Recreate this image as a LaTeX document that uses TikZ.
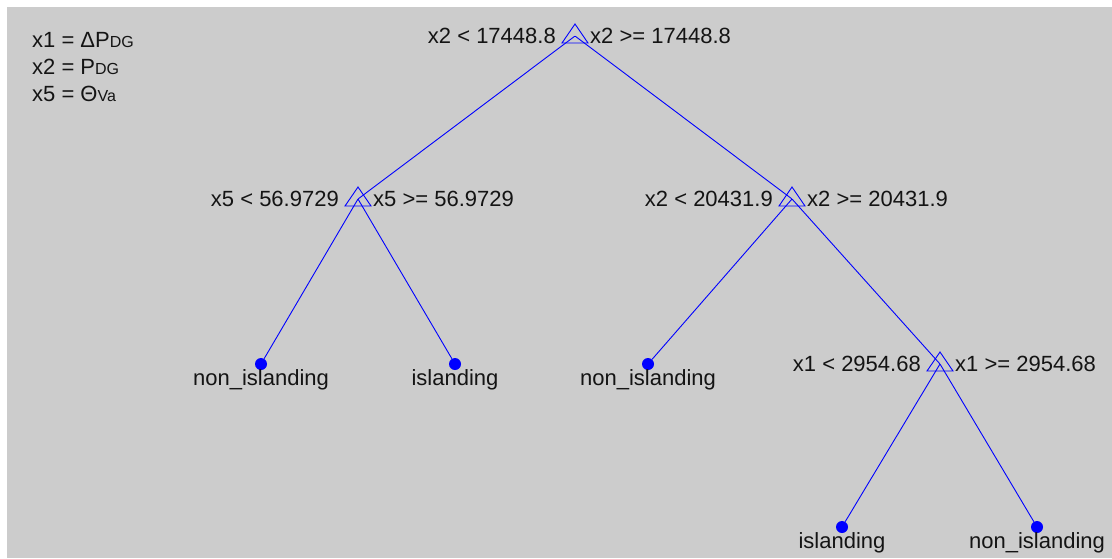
\documentclass[tikz,border=0pt]{standalone}
\usepackage{fontspec}
\setmainfont{Liberation Sans}
\usetikzlibrary{positioning}
\definecolor{bgrey}{RGB}{204,204,204}
\definecolor{ink}{RGB}{20,20,20}
\newcommand{\klein}[1]{{\fontsize{16}{16}\selectfont #1}}

\begin{document}
\begin{tikzpicture}[x=1pt, y=-1pt,
    every node/.style={font=\fontsize{22}{26}\selectfont, text=ink, inner sep=0pt},
    split/.style={inner sep=0pt, minimum size=0pt},
    leaf/.style={circle, fill=blue, minimum size=12pt, inner sep=0pt},
    leaflbl/.style={anchor=base, label distance=15pt},
    edge/.style={blue, line width=0.9pt},
    tri/.style={blue, line width=0.9pt, line join=miter}]
    \useasboundingbox (0,0) rectangle (1112,558);
    \fill[white] (0,0) rectangle (1112,558);
    \fill[bgrey] (7,7) rectangle (1112,558);
    % Legende
    \node[anchor=base west] (leg1) at (32,47) {x1 = ΔP\klein{DG}};
    \node[anchor=base west] (leg2) at (32,74) {x2 = P\klein{DG}};
    \node[anchor=base west] (leg3) at (32,101) {x5 = Θ\klein{Va}};
    % Verzweigungen
    \node[split] (r)  at (575,36)  {};
    \node[split] (s1) at (358,199) {};
    \node[split] (s2) at (792,199) {};
    \node[split] (s3) at (940,364) {};
    % Blaetter
    \node[leaf, label={[leaflbl]below:non\_islanding}] (l1) at (261,364) {};
    \node[leaf, label={[leaflbl]below:islanding}]      (l2) at (455,364) {};
    \node[leaf, label={[leaflbl]below:non\_islanding}] (l3) at (648,364) {};
    \node[leaf, label={[leaflbl]below:islanding}]      (l4) at (842,527) {};
    \node[leaf, label={[leaflbl]below:non\_islanding}] (l5) at (1037,527) {};
    % Bedingungen
    \node[anchor=base east] (r-lt) at ([shift={(-19,7)}]r.center)  {x2 < 17448.8};
    \node[anchor=base west] (r-ge) at ([shift={(15,7)}]r.center)   {x2 >= 17448.8};
    \node[anchor=base east] (s1-lt) at ([shift={(-19,7)}]s1.center) {x5 < 56.9729};
    \node[anchor=base west] (s1-ge) at ([shift={(15,7)}]s1.center)  {x5 >= 56.9729};
    \node[anchor=base east] (s2-lt) at ([shift={(-19,7)}]s2.center) {x2 < 20431.9};
    \node[anchor=base west] (s2-ge) at ([shift={(15,7)}]s2.center)  {x2 >= 20431.9};
    \node[anchor=base east] (s3-lt) at ([shift={(-19,7)}]s3.center) {x1 < 2954.68};
    \node[anchor=base west] (s3-ge) at ([shift={(15,7)}]s3.center)  {x1 >= 2954.68};
    % Kanten
    \draw[edge] (r) -- (s1);
    \draw[edge] (r) -- (s2);
    \draw[edge] (s1) -- (l1);
    \draw[edge] (s1) -- (l2);
    \draw[edge] (s2) -- (l3);
    \draw[edge] (s2) -- (s3);
    \draw[edge] (s3) -- (l4);
    \draw[edge] (s3) -- (l5);
    \foreach \n in {r, s1, s2, s3}
        \draw[tri, shift={(\n)}] (-13,7) -- (0,-12) -- (13,7) -- cycle;
\end{tikzpicture}
\end{document}
